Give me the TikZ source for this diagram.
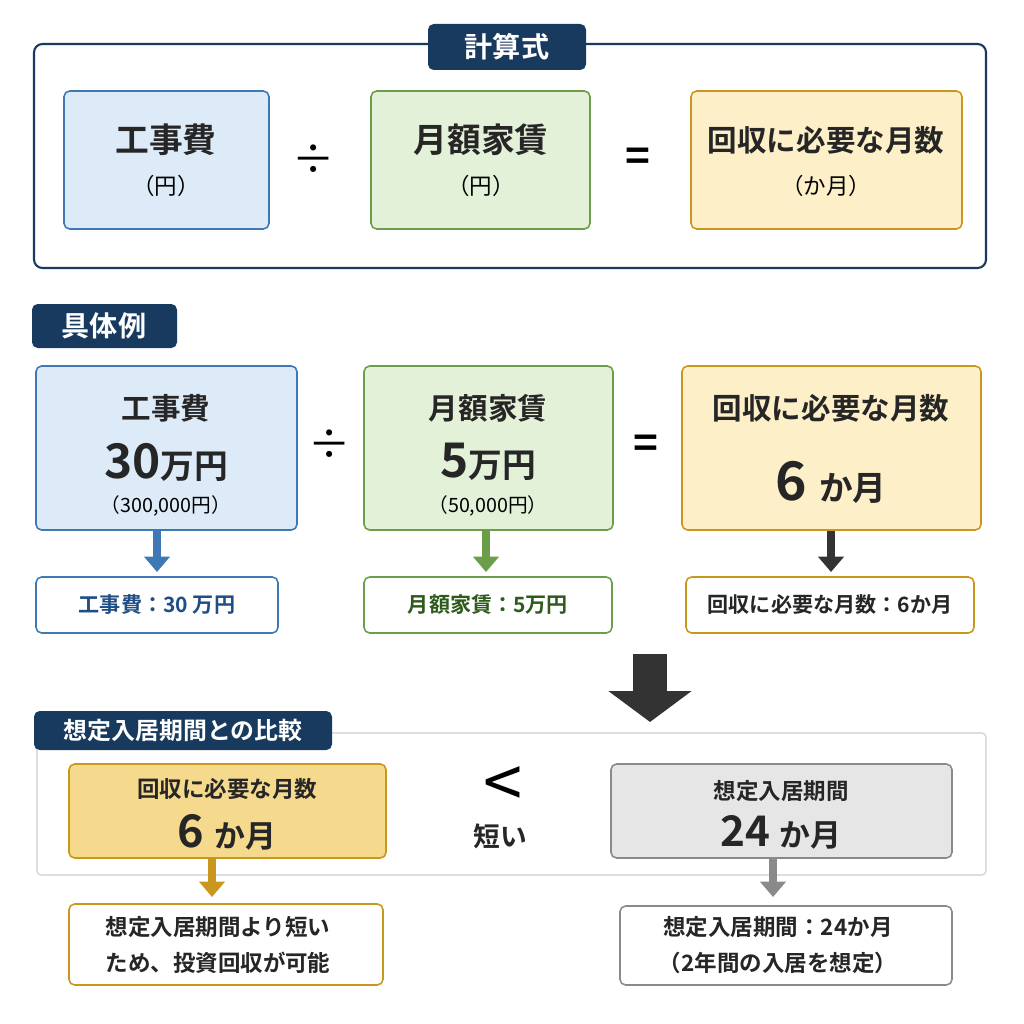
\documentclass[tikz,border=0pt]{standalone}
\usepackage{fontspec}
\setmainfont{Noto Sans CJK JP}[BoldFont={* Bold}]
\usetikzlibrary{arrows.meta,positioning}
\definecolor{navy}{HTML}{173A5E}
\definecolor{bluefill}{HTML}{DDEBF8}
\definecolor{blueline}{HTML}{3E78B5}
\definecolor{bluetext}{HTML}{1F4E85}
\definecolor{greenfill}{HTML}{E3F1D9}
\definecolor{greenline}{HTML}{6C9E4A}
\definecolor{greentext}{HTML}{2E5A1C}
\definecolor{yelfill}{HTML}{FDEFC8}
\definecolor{yelline}{HTML}{C9971C}
\definecolor{yeldark}{HTML}{F5D98C}
\definecolor{grayfill}{HTML}{E6E6E6}
\definecolor{grayline}{HTML}{8A8A8A}
\tikzset{
  box/.style={draw, line width=1.1pt, rounded corners=4pt},
  tab/.style={fill=navy, rounded corners=4pt, text=white, font=\bfseries},
  dnarrow/.style={-{Triangle[width=18pt,length=11pt]}, line width=6pt},
  txt/.style={font=\bfseries, text=black!85},
}
\begin{document}
\begin{tikzpicture}[x=0.025cm,y=-0.025cm]
\useasboundingbox (0,0) rectangle (1024,1024);
% formula section
\draw[navy, line width=1.5pt, rounded corners=6pt] (34,44) rectangle (986,268);
\fill[tab] (428,24) rectangle (586,70);
\node[text=white, font=\bfseries\fontsize{20}{22}\selectfont] (tformula) at (507,47) {計算式};

\draw[box, blueline, fill=bluefill] (64,91) rectangle (269,229);
\node[txt, font=\bfseries\fontsize{24}{26}\selectfont] (fcost) at (166,140) {工事費};
\node[font=\fontsize{16}{18}\selectfont] (fcostu) at (166,186) {（円）};
\node[font=\fontsize{30}{30}\selectfont] (fdiv) at (314,160) {÷};
\draw[box, greenline, fill=greenfill] (371,91) rectangle (590,229);
\node[txt, font=\bfseries\fontsize{24}{26}\selectfont] (frent) at (481,140) {月額家賃};
\node[font=\fontsize{16}{18}\selectfont] (frentu) at (481,186) {（円）};
\node[font=\bfseries\fontsize{30}{30}\selectfont] (feq) at (638,160) {=};
\draw[box, yelline, fill=yelfill] (691,91) rectangle (962,229);
\node[txt, font=\bfseries\fontsize{21}{24}\selectfont] (fmon) at (826,140) {回収に必要な月数};
\node[font=\fontsize{16}{18}\selectfont] (fmonu) at (826,186) {（か月）};

% example section
\fill[tab] (32,304) rectangle (177,348);
\node[text=white, font=\bfseries\fontsize{20}{22}\selectfont] (texample) at (104,326) {具体例};

\draw[box, blueline, fill=bluefill] (36,366) rectangle (297,530);
\node[txt, font=\bfseries\fontsize{21}{24}\selectfont] (ecost) at (166,408) {工事費};
\node[txt, font=\bfseries\fontsize{34}{36}\selectfont] (ecostv) at (166,462) {30{\fontsize{24}{26}\selectfont 万円}};
\node[font=\fontsize{14}{16}\selectfont] (ecostu) at (166,506) {（300,000円）};
\node[font=\fontsize{30}{30}\selectfont] (ediv) at (330,445) {÷};
\draw[box, greenline, fill=greenfill] (364,366) rectangle (613,530);
\node[txt, font=\bfseries\fontsize{21}{24}\selectfont] (erent) at (488,408) {月額家賃};
\node[txt, font=\bfseries\fontsize{34}{36}\selectfont] (erentv) at (488,462) {5{\fontsize{24}{26}\selectfont 万円}};
\node[font=\fontsize{14}{16}\selectfont] (erentu) at (488,506) {（50,000円）};
\node[font=\bfseries\fontsize{30}{30}\selectfont] (eeq) at (646,447) {=};
\draw[box, yelline, fill=yelfill] (682,366) rectangle (981,530);
\node[txt, font=\bfseries\fontsize{21}{24}\selectfont] (emon) at (831,408) {回収に必要な月数};
\node[txt, font=\bfseries\fontsize{38}{40}\selectfont] (emonv) at (831,482) {6 {\fontsize{24}{26}\selectfont か月}};

\coordinate (a1s) at (157,531); \coordinate (a1e) at (157,572);
\coordinate (a2s) at (486,531); \coordinate (a2e) at (486,572);
\coordinate (a3s) at (831,531); \coordinate (a3e) at (831,572);
\draw[dnarrow, blueline] (a1s) -- (a1e);
\draw[dnarrow, greenline] (a2s) -- (a2e);
\draw[dnarrow, black!80] (a3s) -- (a3e);

\draw[box, blueline, fill=white] (36,577) rectangle (278,633);
\node[text=bluetext, font=\bfseries\fontsize{15}{17}\selectfont] (scost) at (157,605) {工事費：30 万円};
\draw[box, greenline, fill=white] (364,577) rectangle (612,633);
\node[text=greentext, font=\bfseries\fontsize{15}{17}\selectfont] (srent) at (488,605) {月額家賃：5万円};
\draw[box, yelline, fill=white] (686,577) rectangle (974,633);
\node[txt, font=\bfseries\fontsize{15}{17}\selectfont] (smon) at (830,605) {回収に必要な月数：6か月};

% big arrow
\coordinate (bs) at (650,654); \coordinate (be) at (650,722);
\draw[-{Triangle[width=58pt,length=22pt]}, line width=24pt, black!80] (bs) -- (be);

% comparison section
\draw[black!20, line width=0.8pt, rounded corners=3pt] (37,733) rectangle (986,875);
\fill[tab] (34,711) rectangle (332,750);
\node[text=white, font=\bfseries\fontsize{17}{19}\selectfont] (tcomp) at (183,730) {想定入居期間との比較};

\draw[box, yelline, fill=yeldark] (69,764) rectangle (386,858);
\node[txt, font=\bfseries\fontsize{16}{18}\selectfont] (cmon) at (227,789) {回収に必要な月数};
\node[txt, font=\bfseries\fontsize{32}{34}\selectfont] (cmonv) at (227,832) {6 {\fontsize{22}{24}\selectfont か月}};
\node[font=\fontsize{50}{50}\selectfont] (clt) at (503,788) {<};
\node[txt, font=\bfseries\fontsize{19}{21}\selectfont] (cshort) at (500,836) {短い};
\draw[box, grayline, fill=grayfill] (611,764) rectangle (952,858);
\node[txt, font=\bfseries\fontsize{16}{18}\selectfont] (cper) at (781,791) {想定入居期間};
\node[txt, font=\bfseries\fontsize{30}{32}\selectfont] (cperv) at (781,832) {24 {\fontsize{22}{24}\selectfont か月}};

\coordinate (a4s) at (212,859); \coordinate (a4e) at (212,897);
\coordinate (a5s) at (773,859); \coordinate (a5e) at (773,897);
\draw[dnarrow, yelline] (a4s) -- (a4e);
\draw[dnarrow, grayline] (a5s) -- (a5e);

\draw[box, yelline, fill=white] (69,904) rectangle (383,985);
\node[txt, font=\bfseries\fontsize{16}{25}\selectfont, align=left] (nmon) at (218,945) {想定入居期間より短い\\ため、投資回収が可能};
\draw[box, grayline, fill=white] (620,906) rectangle (952,985);
\node[txt, font=\bfseries\fontsize{16}{25}\selectfont, align=center] (nper) at (778,945) {想定入居期間：24か月\\（2年間の入居を想定）};
\end{tikzpicture}
\end{document}
